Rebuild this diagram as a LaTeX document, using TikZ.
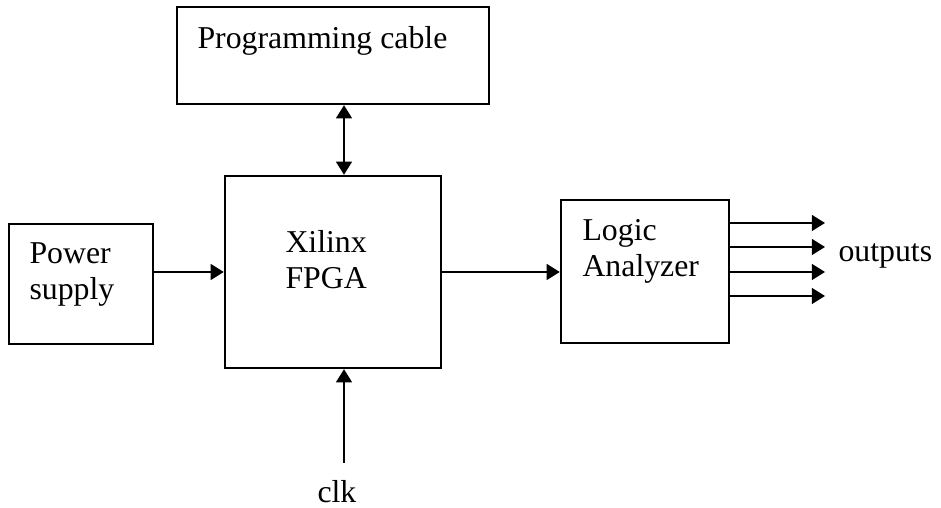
\documentclass[tikz,border=0pt]{standalone}
\usepackage{fontspec}
\setmainfont{Liberation Serif}
\usetikzlibrary{arrows.meta}

\begin{document}
\begin{tikzpicture}[x=0.3775pt, y=-0.3775pt,
    box/.style={draw, line width=0.9pt, inner sep=0pt},
    txt/.style={inner sep=0pt, anchor=base west, align=left,
                font=\fontsize{12pt}{13.8pt}\selectfont},
    arr/.style={-{Triangle[length=5pt,width=6pt]}, line width=0.8pt},
    darr/.style={{Triangle[length=5pt,width=6pt]}-{Triangle[length=5pt,width=6pt]}, line width=0.8pt}
  ]
  \useasboundingbox (0,0) rectangle (941,508);

  % boxes
  \node[box, minimum width=117.78pt, minimum height=36.62pt] (pc)   at (333,55.5) {};
  \node[box, minimum width=81.54pt,  minimum height=72.48pt] (fpga) at (333,272) {};
  \node[box, minimum width=54.36pt,  minimum height=45.3pt]  (ps)   at (81,284) {};
  \node[box, minimum width=63.42pt,  minimum height=53.98pt] (la)   at (645,271.5) {};

  % texts (base = last line)
  \node[txt] (pctxt)  at (197,49)  {Programming cable};
  \node[txt] (fptxt)  at (285,289) {Xilinx\\FPGA};
  \node[txt] (pstxt)  at (29,300)  {Power\\supply};
  \node[txt] (latxt)  at (582,277) {Logic\\Analyzer};
  \node[txt] (outtxt) at (838,262) {outputs};
  \node[txt] (clk)    at (317,503) {clk};

  \coordinate (clkin) at (344,463);

  % connections
  \draw[darr] (pc.south -| clkin) -- (fpga.north -| clkin);
  \draw[arr] (clkin) -- (clkin |- fpga.south);
  \draw[arr] (ps.east |- fpga.west) -- (fpga.west);
  \draw[arr] (fpga.east) -- (la.west |- fpga.east);
  \foreach \y/\n in {223/a, 247/b, 272/c, 296/d} {
    \coordinate (out\n) at (825,\y);
    \draw[arr] (la.east |- out\n) -- (out\n);
  }
\end{tikzpicture}
\end{document}
